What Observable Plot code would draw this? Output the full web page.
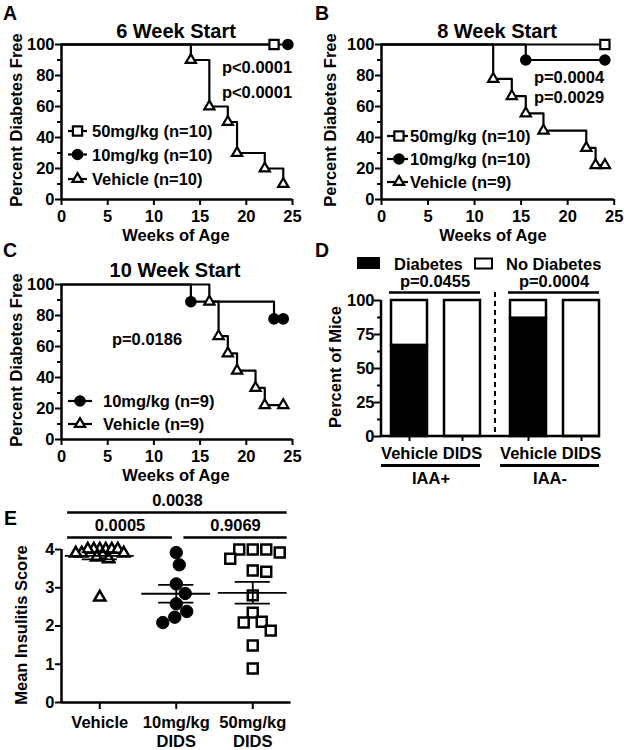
<!DOCTYPE html>
<html><head><meta charset="utf-8">
<script src="https://cdn.jsdelivr.net/npm/d3@7"></script>
<script src="https://cdn.jsdelivr.net/npm/@observablehq/plot@0.6"></script>
<style>
html,body{margin:0;padding:0;background:#fff;}
#fig{position:relative;width:624px;height:750px;overflow:hidden;background:#fff;}
#fig > svg{position:absolute;}
</style></head><body><div id="fig"></div>
<script>
// ---------------- DATA ----------------
// Panel A: 6 Week Start (Kaplan-Meier, weeks of age vs percent diabetes free)
const aWeeks50 = [0, 23];
const aSurv50 = [100, 100];
const aWeeks10 = [0, 24.5];
const aSurv10 = [100, 100];
const aWeeksVeh = [0, 14, 16, 18, 19, 22, 24];
const aSurvVeh = [100, 90, 60, 50, 30, 20, 10];
const aPvalues = ["p<0.0001", "p<0.0001"];
// Panel B: 8 Week Start
const bWeeks50 = [0, 24];
const bSurv50 = [100, 100];
const bWeeks10 = [0, 15.5, 24];
const bSurv10 = [100, 90, 90];
const bWeeksVeh = [0, 12, 14, 15.5, 17.4, 22, 23, 24];
const bSurvVeh = [100, 77.8, 66.7, 55.6, 44.4, 33.3, 22.2, 22.2];
const bPvalues = ["p=0.0004", "p=0.0029"];
// Panel C: 10 Week Start
const cWeeks10 = [0, 14, 23, 24];
const cSurv10 = [100, 88.9, 77.8, 77.8];
const cWeeksVeh = [0, 16, 17, 18, 19, 21, 22, 24];
const cSurvVeh = [100, 88.9, 66.7, 55.6, 44.4, 33.3, 22.2, 22.2];
const cPvalues = ["p=0.0186"];
const weekTicks = [0, 5, 10, 15, 20, 25];
const pctTicks = [0, 20, 40, 60, 80, 100];
const pctMinor = [10, 30, 50, 70, 90];
// Panel D: percent of mice
const dGroups = ["IAA+", "IAA-"];
const dTreatments = ["Vehicle", "DIDS"];
const dDiabetesPct = [67, 0, 87, 0]; // IAA+ Vehicle, IAA+ DIDS, IAA- Vehicle, IAA- DIDS
const dStatus = ["Diabetes", "No Diabetes"];
const dPvalues = ["p=0.0455", "p=0.0004"];
const dTicks = [0, 25, 50, 75, 100];
const dMinor = [12.5, 37.5, 62.5, 87.5];
// Panel E: mean insulitis score
const eGroups = ["Vehicle", "10mg/kg DIDS", "50mg/kg DIDS"];
const eVehicle = [4, 4, 4, 4, 4, 4, 3.9, 3.9, 3.9, 3.85, 3.8, 3.75, 2.75];
const e10 = [3.92, 3.6, 3.1, 2.85, 2.58, 2.38, 2.23, 2.09];
const e50 = [4, 4, 3.92, 4, 3.76, 3.42, 3.45, 2.8, 2.35, 2.09, 2.11, 1.88, 1.49, 0.89];
const eTicks = [0, 1, 2, 3, 4];
const eCompA = ["Vehicle", "10mg/kg DIDS", "Vehicle"];
const eCompB = ["10mg/kg DIDS", "50mg/kg DIDS", "50mg/kg DIDS"];
const eCompP = ["0.0005", "0.9069", "0.0038"];

// ---------------- SETUP ----------------
const FONT = '"Liberation Sans", Arial, Helvetica, sans-serif';
const FS = 16.5;
const LW = 2.2;
const baseStyle = {fontFamily: FONT, fontSize: FS + "px", fontWeight: "bold", color: "black", background: "transparent", overflow: "visible"};
const fig = document.getElementById("fig");
function place(svg, left, top) {
  svg.style.position = "absolute";
  svg.style.left = left + "px";
  svg.style.top = top + "px";
  fig.appendChild(svg);
  return svg;
}
const SYM = {circle: d3.symbolCircle, square: d3.symbolSquare, triangle: d3.symbolTriangle};
const STY = {
  "50mg/kg": {symbol: "square", r: 5.2, fill: "white"},
  "10mg/kg": {symbol: "circle", r: 4.7, fill: "black"},
  "Vehicle": {symbol: "triangle", r: 3.8, fill: "white"}
};

// ---------------- KM PANELS ----------------
function kmPanel(series, mLeft, mRight) {
  const rows = s => s.weeks.map((w, i) => ({w, p: s.surv[i], i}));
  return Plot.plot({
    width: 312, height: 240,
    marginLeft: mLeft, marginRight: mRight, marginTop: 44, marginBottom: 41,
    style: baseStyle,
    x: {domain: [weekTicks[0], weekTicks[weekTicks.length - 1]], label: null},
    y: {domain: [pctTicks[0], pctTicks[pctTicks.length - 1]], label: null},
    marks: [
      Plot.axisY({ticks: pctMinor, tickSize: 4, tickFormat: () => "", strokeWidth: 2, label: null}),
      Plot.axisY({ticks: pctTicks, tickSize: 6, tickPadding: 1, tickFormat: d => String(d), strokeWidth: 2, label: null}),
      Plot.axisX({ticks: weekTicks, tickSize: 6, tickPadding: 4.5, tickFormat: d => String(d), strokeWidth: 2, label: null}),
      ...series.map(s => Plot.line(rows(s), {x: "w", y: "p", curve: "step-after", stroke: "black", strokeWidth: LW})),
      Plot.ruleX([weekTicks[0]], {strokeWidth: 2.5}),
      Plot.ruleY([pctTicks[0]], {strokeWidth: 2.5}),
      ...series.map(s => Plot.dot(rows(s).filter(d => d.i > 0), {
        x: "w", y: "p", symbol: STY[s.key].symbol, r: STY[s.key].r, fill: STY[s.key].fill,
        stroke: "black", strokeWidth: LW
      }))
    ]
  });
}

const seriesA = [
  {key: "50mg/kg", label: "50mg/kg (n=10)", weeks: aWeeks50, surv: aSurv50},
  {key: "10mg/kg", label: "10mg/kg (n=10)", weeks: aWeeks10, surv: aSurv10},
  {key: "Vehicle", label: "Vehicle (n=10)", weeks: aWeeksVeh, surv: aSurvVeh}
];
const seriesB = [
  {key: "50mg/kg", label: "50mg/kg (n=10)", weeks: bWeeks50, surv: bSurv50},
  {key: "10mg/kg", label: "10mg/kg (n=10)", weeks: bWeeks10, surv: bSurv10},
  {key: "Vehicle", label: "Vehicle (n=9)", weeks: bWeeksVeh, surv: bSurvVeh}
];
const seriesC = [
  {key: "10mg/kg", label: "10mg/kg (n=9)", weeks: cWeeks10, surv: cSurv10},
  {key: "Vehicle", label: "Vehicle (n=9)", weeks: cWeeksVeh, surv: cSurvVeh}
];
place(kmPanel(seriesA, 61, 20), 0, 0);
place(kmPanel(seriesB, 69, 10.3), 312, 0);
place(kmPanel(seriesC, 61, 20), 0, 240);

// ---------------- PANEL D ----------------
const dRows = [];
dGroups.forEach((g, gi) => dTreatments.forEach((t, ti) => {
  const v = dDiabetesPct[gi * dTreatments.length + ti];
  dRows.push({group: g, treatment: t, status: dStatus[0], value: v});
  dRows.push({group: g, treatment: t, status: dStatus[1], value: 100 - v});
}));
const dAnn = dGroups.map((g, i) => ({group: g, p: dPvalues[i]}));
const dTop = dTicks[dTicks.length - 1], dBot = dTicks[0];
const plotD = Plot.plot({
  width: 312, height: 240,
  marginLeft: 69, marginRight: 24, marginTop: 60, marginBottom: 44,
  style: baseStyle,
  fx: {domain: dGroups, paddingInner: 0.167, paddingOuter: 0, label: null},
  x: {domain: dTreatments, paddingInner: 0.315, paddingOuter: 0.079, align: 1, label: null},
  y: {domain: [dBot, dTop], label: null},
  color: {domain: dStatus, range: ["black", "white"]},
  marks: [
    Plot.barY(dRows, {fx: "group", x: "treatment", y: "value", fill: "status", stroke: "black", strokeWidth: 2.5}),
    Plot.axisY({ticks: dMinor, tickSize: 4, tickFormat: () => "", strokeWidth: 2, label: null}),
    Plot.axisY({ticks: dTicks, tickSize: 7, tickPadding: 0, tickFormat: d => String(d), strokeWidth: 2, label: null}),
    Plot.axisX({tickSize: 5, tickPadding: 6, strokeWidth: 2, label: null}),
    Plot.axisFx({anchor: "bottom", tickSize: 0, tickPadding: 36, label: null}),
    Plot.ruleY(dAnn, {fx: "group", y: () => dTop, dy: -8, insetLeft: 8, strokeWidth: 2.5}),
    Plot.text(dAnn, {fx: "group", y: () => dTop, text: "p", dy: -19, dx: 4}),
    Plot.ruleY(dAnn, {fx: "group", y: () => dBot, dy: 29, strokeWidth: 3})
  ]
});
{
  const fx = plotD.scale("fx"), x = plotD.scale("x"), y = plotD.scale("y");
  const mL = 69, mR = 24, W = 312;
  const s = d3.select(plotD);
  s.append("line").attr("x1", mL).attr("x2", W - mR).attr("y1", y.apply(dBot)).attr("y2", y.apply(dBot))
    .attr("stroke", "black").attr("stroke-width", 2.5);
  s.append("line").attr("x1", mL).attr("x2", mL).attr("y1", y.apply(dTop)).attr("y2", y.apply(dBot))
    .attr("stroke", "black").attr("stroke-width", 2.5);
  const endA = fx.apply(dGroups[0]) - mL + x.apply(dTreatments[dTreatments.length - 1]) + x.bandwidth;
  const startB = fx.apply(dGroups[1]) - mL + x.apply(dTreatments[0]);
  const xm = (endA + startB) / 2;
  s.append("line").attr("x1", xm).attr("x2", xm).attr("y1", y.apply(dTop) - 8).attr("y2", y.apply(dBot))
    .attr("stroke", "black").attr("stroke-width", 2).attr("stroke-dasharray", "5,4");
}
place(plotD, 312, 240);

// ---------------- PANEL E ----------------
const eData = [eVehicle, e10, e50];
const eSty = [
  {symbol: "triangle", r: 4.2, fill: "white", sw: 2.5, gap: 6},
  {symbol: "circle", r: 6.2, fill: "black", sw: 1, gap: 12.5},
  {symbol: "square", r: 5.6, fill: "white", sw: 2.5, gap: 12.5}
];
const EW = 312, EH = 270, EML = 61, EMR = 21.5, EMT = 69, EMB = 48;
const eYpx = d3.scaleLinear([eTicks[0], eTicks[eTicks.length - 1]], [EH - EMB, EMT]);
const pxPerUnit = (EW - EML - EMR) / eGroups.length;
function swarm(values, gap) {
  const placed = [];
  const sorted = values.map(v => v).sort((a, b) => b - a);
  for (const v of sorted) {
    const py = eYpx(v);
    let off = 0;
    for (let n = 0; n < 400; n++) {
      const c = (n % 2 ? 1 : -1) * Math.ceil(n / 2) * 1.5;
      if (placed.every(p => Math.hypot(p.off - c, p.py - py) >= gap)) { off = c; break; }
    }
    placed.push({off, py, v});
  }
  return placed;
}
const eRows = eGroups.flatMap((g, gi) => swarm(eData[gi], eSty[gi].gap).map(p => ({g, gi, v: p.v, x: gi + p.off / pxPerUnit})));
const eStats = eGroups.map((g, gi) => {
  const m = d3.mean(eData[gi]);
  const sem = d3.deviation(eData[gi]) / Math.sqrt(eData[gi].length);
  return {g, gi, mean: m, lo: m - sem, hi: m + sem};
});
const eSem = eStats.flatMap(d => [{gi: d.gi, v: d.lo}, {gi: d.gi, v: d.hi}]);
const eComp = eCompA.map((a, i) => {
  const ia = eGroups.indexOf(a), ib = eGroups.indexOf(eCompB[i]);
  return {ia, ib, p: eCompP[i], level: ib - ia - 1};
});
const shared = (idx, lvl) => eComp.filter(c => c.level === lvl && (c.ia === idx || c.ib === idx)).length > 1;
eComp.forEach(c => {
  c.x1 = shared(c.ia, c.level) ? c.ia + 0.1 : c.ia - 0.42;
  c.x2 = shared(c.ib, c.level) ? c.ib - 0.05 : c.ib + 0.45;
  c.xm = (c.x1 + c.x2) / 2;
});
const eTop = eTicks[eTicks.length - 1];
const levels = [...new Set(eComp.map(c => c.level))];
const plotE = Plot.plot({
  width: EW, height: EH,
  marginLeft: EML, marginRight: EMR, marginTop: EMT, marginBottom: EMB,
  style: baseStyle,
  x: {domain: [-0.5, eGroups.length - 0.5], label: null},
  y: {domain: [eTicks[0], eTop], label: null},
  marks: [
    Plot.axisY({ticks: eTicks, tickSize: 6, tickPadding: 1, tickFormat: d => String(d), strokeWidth: 2, label: null}),
    Plot.axisX({ticks: eGroups.map((g, i) => i), tickFormat: i => eGroups[i].replace(" ", "\n"),
      tickSize: 7, tickPadding: 5, strokeWidth: 2, label: null, lineHeight: 1.15}),
    Plot.ruleX([-0.5], {strokeWidth: 2.5}),
    Plot.ruleY([eTicks[0]], {strokeWidth: 2.5}),
    ...eGroups.map((g, gi) => Plot.dot(eRows.filter(d => d.gi === gi), {
      x: "x", y: "v", symbol: eSty[gi].symbol, r: eSty[gi].r, fill: eSty[gi].fill,
      stroke: "black", strokeWidth: eSty[gi].sw
    })),
    Plot.ruleY(eStats, {y: "mean", x1: d => d.gi - 0.45, x2: d => d.gi + 0.45, strokeWidth: 1.8}),
    Plot.ruleY(eSem, {y: "v", x1: d => d.gi - 0.23, x2: d => d.gi + 0.23, strokeWidth: 1.8}),
    Plot.ruleX(eStats, {x: "gi", y1: "lo", y2: "hi", strokeWidth: 1.8}),
    ...levels.flatMap(lvl => [
      Plot.ruleY(eComp.filter(c => c.level === lvl), {y: () => eTop, x1: "x1", x2: "x2", dy: -12 - 25 * lvl, strokeWidth: 2.5}),
      Plot.text(eComp.filter(c => c.level === lvl), {y: () => eTop, x: "xm", text: "p", dy: -24 - 25 * lvl})
    ])
  ]
});
place(plotE, 0, 480);

// ---------------- TEXT / LEGEND OVERLAY ----------------
const ov = d3.create("svg").attr("width", 624).attr("height", 750)
  .style("position", "absolute").style("left", "0px").style("top", "0px").style("pointer-events", "none")
  .attr("font-family", FONT).attr("font-weight", "bold").attr("fill", "black");
function T(x, y, str, size = FS, anchor = "start", rot = false) {
  const t = ov.append("text").attr("font-size", size).attr("text-anchor", anchor).text(str);
  if (rot) t.attr("transform", `translate(${x},${y}) rotate(-90)`);
  else t.attr("x", x).attr("y", y);
  return t;
}
T(3, 20, "A", 19.5); T(315, 20, "B", 19.5); T(3, 257, "C", 19.5); T(315, 257, "D", 19.5); T(4, 525, "E", 19.5);
T(176, 38, "6 Week Start", 20, "middle");
T(497, 38, "8 Week Start", 20, "middle");
T(175, 277, "10 Week Start", 20, "middle");
T(22, 120, "Percent Diabetes Free", FS, "middle", true);
T(336, 120, "Percent Diabetes Free", FS, "middle", true);
T(22, 360, "Percent Diabetes Free", FS, "middle", true);
T(341, 367, "Percent of Mice", FS, "middle", true);
T(26.5, 625, "Mean Insulitis Score", FS, "middle", true);
T(176, 241, "Weeks of Age", FS, "middle");
T(493, 241, "Weeks of Age", FS, "middle");
T(176, 481, "Weeks of Age", FS, "middle");
aPvalues.forEach((p, i) => T(257, 73 + 25 * i, p, FS, "middle"));
bPvalues.forEach((p, i) => T(569, 83 + 20 * i, p, FS, "middle"));
cPvalues.forEach((p, i) => T(147, 345, p, FS, "middle"));
function legend(series, lx1, lx2, mx, tx, rowsY) {
  series.forEach((s, i) => {
    const cy = rowsY[i], st = STY[s.key];
    ov.append("line").attr("x1", lx1).attr("x2", lx2).attr("y1", cy).attr("y2", cy)
      .attr("stroke", "black").attr("stroke-width", LW);
    ov.append("path").attr("d", d3.symbol(SYM[st.symbol], Math.PI * st.r * st.r)())
      .attr("transform", `translate(${mx},${cy})`).attr("fill", st.fill)
      .attr("stroke", "black").attr("stroke-width", LW);
    T(tx, cy + 6, s.label);
  });
}
legend(seriesA, 68, 87, 77.5, 92, [131, 154.5, 179]);
legend(seriesB, 387, 408, 399, 410, [136, 159, 182]);
legend(seriesC, 68, 92, 80, 103, [401, 424]);
ov.append("rect").attr("x", 357).attr("y", 257).attr("width", 23).attr("height", 12).attr("fill", "black");
T(394, 270, dStatus[0]);
ov.append("rect").attr("x", 475).attr("y", 258.5).attr("width", 17).attr("height", 10)
  .attr("fill", "white").attr("stroke", "black").attr("stroke-width", 2);
T(506, 270, dStatus[1]);
fig.appendChild(ov.node());
</script></body></html>
